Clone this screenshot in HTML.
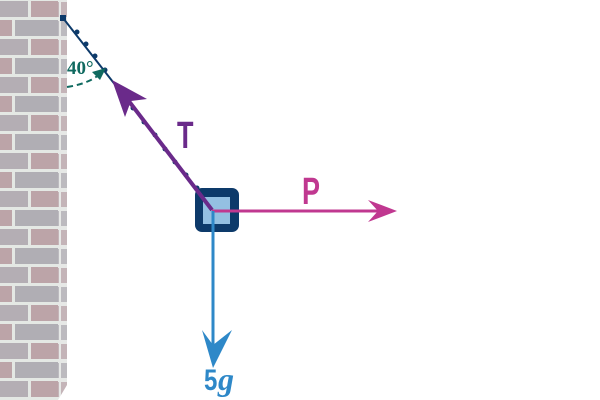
<!DOCTYPE html>
<html><head><style>html,body{margin:0;padding:0;background:#fff}svg{display:block}</style></head>
<body>
<svg width="600" height="400" viewBox="0 0 600 400" xmlns="http://www.w3.org/2000/svg">
<defs>
<pattern id="br" x="0" y="0" width="92" height="38" patternUnits="userSpaceOnUse">
<rect width="92" height="38" fill="#e4e8e4"/>
<rect x="0" y="1" width="28" height="16" fill="#b4aeb4"/>
<rect x="31" y="1" width="58" height="16" fill="#bca4a8"/>
<rect x="0" y="20" width="12" height="16" fill="#bca4a8"/>
<rect x="15" y="20" width="44" height="16" fill="#b0aeb4"/>
<rect x="62" y="20" width="28" height="16" fill="#b8a2a6"/>
</pattern>
<pattern id="sd" x="0" y="0" width="10" height="38" patternUnits="userSpaceOnUse">
<rect width="10" height="38" fill="#e6e8e6"/>
<rect x="1" y="2" width="8" height="15" fill="#c4b4b8"/>
<rect x="1" y="21" width="8" height="15" fill="#bcbabf"/>
</pattern>
</defs>
<rect x="0" y="0" width="58" height="400" fill="url(#br)"/>
<polygon points="58,0 67,0 67,385 58,400" fill="url(#sd)"/>
<line x1="63" y1="18" x2="205" y2="200" stroke="#0d3a6a" stroke-width="2"/>
<rect x="60" y="15" width="6" height="6" fill="#0d3a6a"/>
<g fill="#0d3a6a">
<circle cx="77" cy="32" r="2.5"/><circle cx="86" cy="44" r="2.5"/><circle cx="95" cy="56" r="2.5"/><circle cx="105" cy="70" r="2.5"/>
<circle cx="133" cy="108" r="2.5"/><circle cx="144" cy="122" r="2.5"/><circle cx="155" cy="135" r="2.5"/><circle cx="165" cy="149" r="2.5"/><circle cx="175" cy="162" r="2.5"/><circle cx="186" cy="175" r="2.5"/><circle cx="197" cy="188" r="2.5"/>
</g>
<path d="M67,87 Q88,84 100,74" fill="none" stroke="#106a60" stroke-width="2" stroke-dasharray="6,4"/>
<polygon points="106,68 92,72 100,80" fill="#106a60"/>
<text x="67" y="74" font-family="Liberation Serif, serif" font-weight="bold" font-size="19" fill="#106a60">40°</text>
<rect x="195" y="188" width="44" height="44" rx="7" fill="#0d3a6a"/>
<rect x="203" y="197" width="27" height="27" fill="#94c0e2"/>
<line x1="212" y1="210" x2="128" y2="100" stroke="#6a2a8a" stroke-width="4"/>
<polygon points="112,80 147,99 131,101 125,117" fill="#6a2a8a"/>
<text transform="translate(177,148) scale(0.75,1.05)" font-family="Liberation Sans, sans-serif" font-weight="bold" font-size="36" fill="#6a2a8a">T</text>
<line x1="212" y1="211" x2="385" y2="211" stroke="#c03890" stroke-width="3"/>
<polygon points="397,211 368,200 378,211 368,222" fill="#c03890"/>
<text transform="translate(302,204) scale(0.75,1.05)" font-family="Liberation Sans, sans-serif" font-weight="bold" font-size="36" fill="#c03890">P</text>
<line x1="213" y1="211" x2="213" y2="350" stroke="#2e88c8" stroke-width="3"/>
<polygon points="213,368 202,330 213,345 232,330" fill="#2e88c8"/>
<text transform="translate(204,390) scale(0.8,1)" font-family="Liberation Sans, sans-serif" font-weight="bold" font-size="30" fill="#2e88c8">5</text>
<text x="218" y="390" font-family="Liberation Serif, serif" font-weight="bold" font-style="italic" font-size="32" fill="#2e88c8">g</text>
</svg>
</body></html>
